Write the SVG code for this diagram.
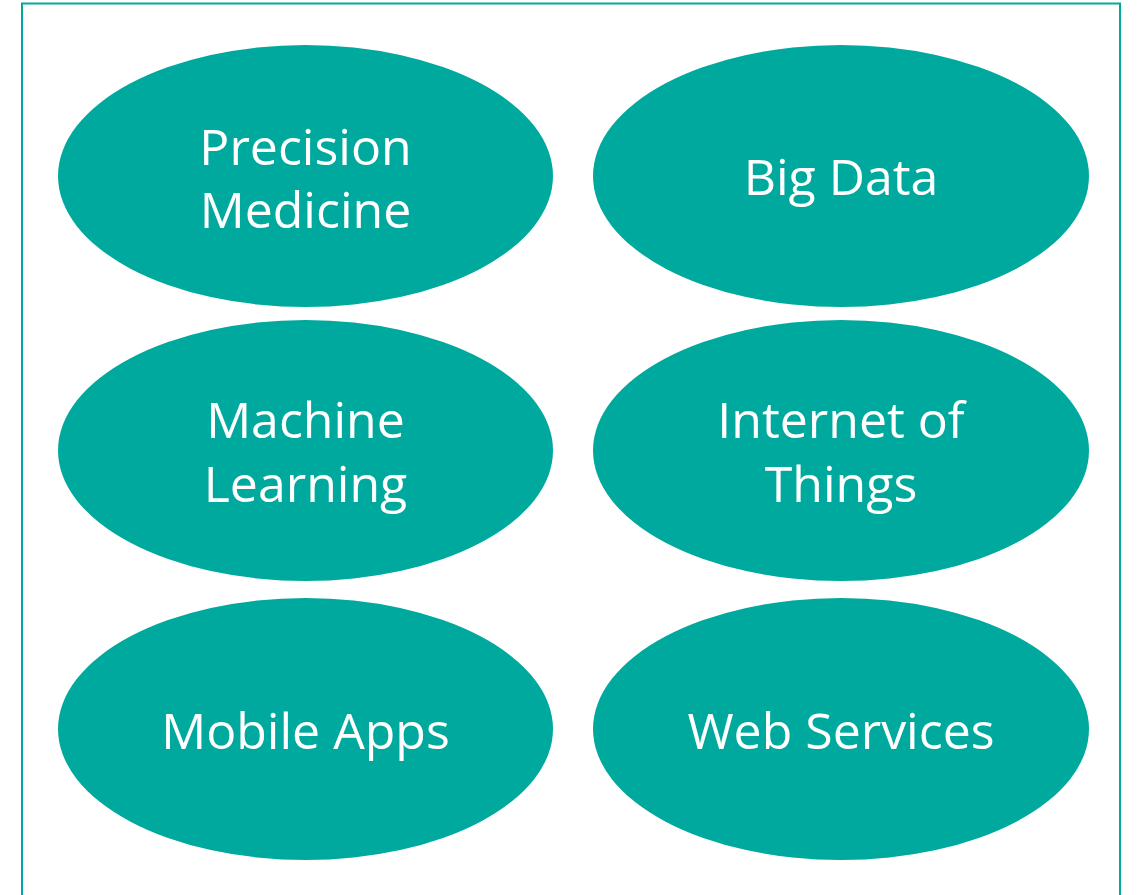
<svg xmlns="http://www.w3.org/2000/svg" width="1138" height="895" viewBox="0 0 1138 895">
<style>
.n ellipse{fill:#00A99D;}
.n text{fill:#ffffff;font-family:"Open Sans","Liberation Sans",sans-serif;font-size:50px;text-anchor:middle;}
</style>
<rect x="0" y="0" width="1138" height="895" fill="#ffffff"/>
<rect x="22" y="3.5" width="1098" height="900" fill="none" stroke="#00A99D" stroke-width="2"/>
<g id="connectors"></g>
<g id="precision-medicine" class="n">
<ellipse cx="305.5" cy="176" rx="247.5" ry="131"/>
<text x="305.5" y="165">Precision</text>
<text x="305.5" y="228">Medicine</text>
</g>
<g id="big-data" class="n">
<ellipse cx="841" cy="176" rx="248" ry="131"/>
<text x="841" y="195">Big Data</text>
</g>
<g id="machine-learning" class="n">
<ellipse cx="305.5" cy="450.5" rx="247.5" ry="130.5"/>
<text x="305.5" y="438">Machine</text>
<text x="305.5" y="502">Learning</text>
</g>
<g id="internet-of-things" class="n">
<ellipse cx="841" cy="450.5" rx="248" ry="130.5"/>
<text x="841" y="438">Internet of</text>
<text x="841" y="502">Things</text>
</g>
<g id="mobile-apps" class="n">
<ellipse cx="305.5" cy="729" rx="247.5" ry="131"/>
<text x="305.5" y="749">Mobile Apps</text>
</g>
<g id="web-services" class="n">
<ellipse cx="841" cy="729" rx="248" ry="131"/>
<text x="841" y="749">Web Services</text>
</g>
</svg>
